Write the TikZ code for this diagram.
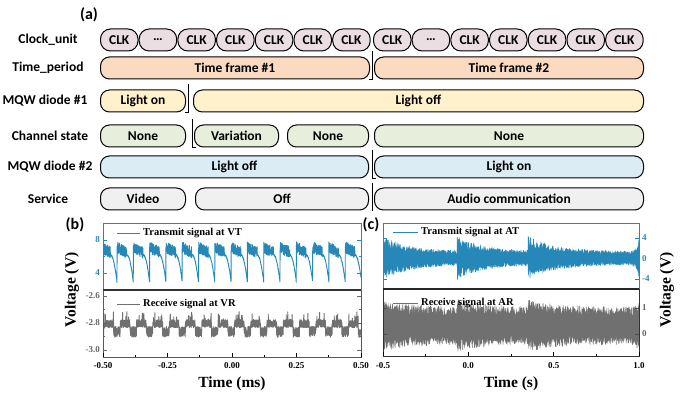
\documentclass[tikz,border=0pt]{standalone}
\usepackage{fontspec}
\setmainfont{Liberation Serif}
\newfontfamily\calfont{Carlito}
\usetikzlibrary{positioning}

\definecolor{clkfill}{RGB}{234,222,226}
\definecolor{framefill}{RGB}{251,218,194}
\definecolor{diodeone}{RGB}{255,241,204}
\definecolor{chanfill}{RGB}{232,238,220}
\definecolor{diodetwo}{RGB}{220,236,244}
\definecolor{servfill}{RGB}{240,240,240}
\definecolor{sigblue}{RGB}{38,136,184}
\definecolor{siggray}{RGB}{112,112,112}

\tikzset{
  seg/.style={draw, line width=1pt, rounded corners=9pt, minimum height=22pt,
    inner sep=0pt, anchor=west, font=\calfont\bfseries\fontsize{13.5}{14}\selectfont},
  rowname/.style={font=\calfont\bfseries\fontsize{13.5}{14}\selectfont},
  panelname/.style={font=\calfont\bfseries\fontsize{16}{16}\selectfont},
  sep/.style={line width=0.8pt},
  ticklab/.style={font=\bfseries\fontsize{9}{9}\selectfont, inner sep=1pt},
  axname/.style={font=\bfseries\fontsize{15.5}{16}\selectfont},
  legtext/.style={font=\bfseries\fontsize{10.5}{11}\selectfont, anchor=west, inner sep=0pt},
  sig/.style={line width=0.6pt, line join=round},
}
\newcommand{\segbox}[6]{%
  \node[seg, fill=#5, minimum width={#3-#2}] (#1) at (#2,#4) {#6};}

\begin{document}
\begin{tikzpicture}[x=1pt, y=-1pt,
  declare function={
    phb(\q)=mod(\q-117+163,16.3)/16.3;
    phr(\q)=mod(\q-117+163+3.3,16.3)/16.3;
    vt(\q)=(phb(\q)<0.6) ? (7.1-1.0*phb(\q)+0.7*rand) : (6.2-3.3*((phb(\q)-0.6)/0.4)^2+0.1*rand);
    vr(\q)=(phr(\q)<0.4) ? (-2.865+0.04*rand) : (-2.805+0.03*rand+0.06*(rnd>0.96));
    tc(\q)=-0.5+(\q-383)/170.67;
    tb(\q)=(tc(\q)<-0.066) ? -0.5 : ((tc(\q)<0.35) ? -0.066 : 0.35);
    burst(\q)=exp(-(tc(\q)-tb(\q))/0.15);
    edge(\q)=exp(max((tc(\q)-1)/0.015,-20));
    envt(\q)=1.35+3.0*burst(\q)+2.5*edge(\q);
    envr(\q)=0.72+0.3*burst(\q)+0.3*edge(\q);
  }]
\useasboundingbox (0,0) rectangle (693,406);

% (a) timing rows
\node[panelname] (pa) at (89,15) {(a)};
\node[rowname] (lbclk) at (48,40) {Clock\_unit};
\node[rowname] (lbtime) at (48,68) {Time\_period};
\node[rowname] (lbdone) at (45,101) {MQW diode \#1};
\node[rowname] (lbchan) at (50,136) {Channel state};
\node[rowname] (lbdtwo) at (50,167) {MQW diode \#2};
\node[rowname] (lbserv) at (48,199) {Service};

\foreach \t [count=\i from 0] in {CLK,\ldots,CLK,CLK,CLK,CLK,CLK}
  \node[seg, fill=clkfill, minimum width=37.5, rounded corners=10pt] (clka\i) at ({100+38.7*\i},40) {\t};
\foreach \t [count=\i from 0] in {CLK,\ldots,CLK,CLK,CLK,CLK,CLK}
  \node[seg, fill=clkfill, minimum width=37.5, rounded corners=10pt] (clkb\i) at ({373+38.7*\i},40) {\t};

\segbox{tfone}{100}{369}{68}{framefill}{Time frame \#1}
\segbox{tftwo}{374}{643}{68}{framefill}{Time frame \#2}
\segbox{doneon}{100}{185}{101}{diodeone}{Light on}
\segbox{doneoff}{193}{643}{101}{diodeone}{Light off}
\segbox{chA}{100}{185}{136}{chanfill}{None}
\segbox{chB}{194}{278}{136}{chanfill}{Variation}
\segbox{chC}{287}{368}{136}{chanfill}{None}
\segbox{chD}{374}{643}{136}{chanfill}{None}
\segbox{dtwooff}{100}{368}{167}{diodetwo}{Light off}
\segbox{dtwoon}{374}{643}{167}{diodetwo}{Light on}
\segbox{svA}{100}{185}{199}{servfill}{Video}
\segbox{svB}{195}{368}{199}{servfill}{Off}
\segbox{svC}{374}{643}{199}{servfill}{Audio communication}

% switching marks
\draw[sep] (372,51) -- (372,79) -- (369,79);
\draw[sep] (188,84) -- (188,112) -- (185,112);
\draw[sep] (192,119) -- (192,147) -- (196,147);
\draw[sep] (372,150) -- (372,178) -- (376,178);
\draw[sep] (372,183) -- (372,211);

% (b) video signals
\node[panelname] (pb) at (75,225) {(b)};
\begin{scope}
  \clip (103,223) rectangle (361,290);
  \draw[sig, sigblue, line width=0.9pt] plot[domain=103:361, samples=2600] (\x, {240-8.25*(vt(\x)-8)});
\end{scope}
\begin{scope}
  \clip (103,290) rectangle (361,357);
  \draw[sig, siggray, line width=0.9pt] plot[domain=103:361, samples=2600] (\x, {296+135*(-2.6-vr(\x))});
\end{scope}
\draw[sigblue, line width=0.8pt] (103,290) -- (103,223) -- (361,223) -- (361,290);
\draw[black!65, line width=0.8pt] (103,290) -- (103,357) -- (361,357) -- (361,290);
\draw[black!80, line width=1.3pt] (103,290) -- (361,290);
\foreach \xx in {103,167.5,232,296.5,361} \draw[line width=0.6pt] (\xx,357) -- (\xx,353);
\foreach \xx in {135.25,199.75,264.25,328.75} \draw[line width=0.6pt] (\xx,357) -- (\xx,355);
\foreach \yy in {240,273} \draw[sigblue, line width=0.6pt] (103,\yy) -- (107,\yy) (361,\yy) -- (357,\yy);
\foreach \yy in {256.5} \draw[sigblue, line width=0.6pt] (103,\yy) -- (105,\yy) (361,\yy) -- (359,\yy);
\foreach \yy in {296,323,350} \draw[black!60, line width=0.6pt] (103,\yy) -- (107,\yy) (361,\yy) -- (357,\yy);
\foreach \yy in {309.5,336.5} \draw[black!60, line width=0.6pt] (103,\yy) -- (105,\yy) (361,\yy) -- (359,\yy);
\foreach \v/\yy [count=\i] in {8/240,4/273}
  \node[ticklab, sigblue, anchor=east] (bly\i) at (101,\yy) {\v};
\foreach \v/\yy [count=\i] in {-2.6/296,-2.8/323,-3.0/350}
  \node[ticklab, black!60, anchor=east] (blz\i) at (101,\yy) {\v};
\foreach \v/\xx [count=\i] in {-0.50/103,-0.25/167.5,0.00/232,0.25/296.5,0.50/361}
  \node[ticklab] (blx\i) at (\xx,366) {\v};
\node[axname] (bxname) at (232,384) {Time (ms)};
\node[axname, rotate=90] (byname) at (72,290) {Voltage (V)};
\coordinate (bla) at (117,233);
\coordinate (blb) at (140,233);
\draw[sigblue, line width=0.8pt] (bla) -- (blb);
\node[legtext] (bleg) at (143,233) {Transmit signal at VT};
\coordinate (bra) at (117,304);
\coordinate (brb) at (140,304);
\draw[siggray, line width=0.8pt] (bra) -- (brb);
\node[legtext] (breg) at (143,304) {Receive signal at VR};

% (c) audio signals
\node[panelname] (pc) at (371,225) {(c)};
\begin{scope}
  \clip (383,223) rectangle (639,289);
  \fill[sigblue] plot[domain=383:639, samples=500] (\x, {258-5.1*envt(\x)*(0.5+0.5*rnd)})
    -- plot[domain=639:383, samples=500] (\x, {258+5.1*envt(\x)*(0.5+0.5*rnd)}) -- cycle;
  \draw[sig, sigblue] plot[domain=383:639, samples=1500] (\x, {258-5.1*envt(\x)*rand});
\end{scope}
\begin{scope}
  \clip (383,289) rectangle (639,356);
  \fill[siggray] plot[domain=383:639, samples=500] (\x, {334-26*(0.32+envr(\x)*(0.5+0.5*rnd))})
    -- plot[domain=639:383, samples=500] (\x, {334-26*(0.32-envr(\x)*(0.5+0.5*rnd))}) -- cycle;
  \draw[sig, siggray] plot[domain=383:639, samples=1500] (\x, {334-26*(0.32+envr(\x)*rand)});
\end{scope}
\draw[sigblue, line width=0.8pt] (383,289) -- (383,223) -- (639,223) -- (639,289);
\draw[black!80, line width=0.8pt] (383,289) -- (383,356) -- (639,356) -- (639,289);
\draw[black!85, line width=1.3pt] (383,289) -- (639,289);
\foreach \xx in {383,468.3,553.7,639} \draw[line width=0.6pt] (\xx,356) -- (\xx,352);
\foreach \xx in {425.7,511,596.3} \draw[line width=0.6pt] (\xx,356) -- (\xx,354);
\foreach \yy in {238,258.5,279} \draw[sigblue, line width=0.6pt] (639,\yy) -- (635,\yy) (383,\yy) -- (387,\yy);
\foreach \yy in {308,334} \draw[black!70, line width=0.6pt] (639,\yy) -- (635,\yy) (383,\yy) -- (387,\yy);
\foreach \v/\yy [count=\i] in {4/238,0/258.5,-4/279}
  \node[ticklab, sigblue, anchor=west] (cly\i) at (641,\yy) {\v};
\foreach \v/\yy [count=\i] in {1/308,0/334}
  \node[ticklab, black!60, anchor=west] (clz\i) at (641,\yy) {\v};
\foreach \v/\xx [count=\i] in {-0.5/383,0.0/468.3,0.5/553.7,1.0/639}
  \node[ticklab] (clx\i) at (\xx,366) {\v};
\node[axname] (cxname) at (511,384) {Time (s)};
\node[axname, rotate=90] (cyname) at (667,290) {Voltage (V)};
\coordinate (cla) at (393,232);
\coordinate (clb) at (418,232);
\draw[sigblue, line width=0.8pt] (cla) -- (clb);
\node[legtext] (cleg) at (421,232) {Transmit signal at AT};
\coordinate (cra) at (393,303);
\coordinate (crb) at (418,303);
\draw[siggray, line width=0.8pt] (cra) -- (crb);
\node[legtext] (creg) at (421,303) {Receive signal at AR};
\end{tikzpicture}
\end{document}
